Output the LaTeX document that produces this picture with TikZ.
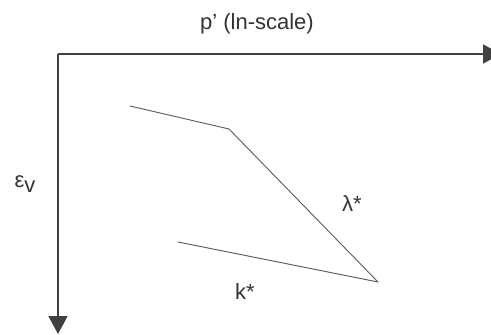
\documentclass[tikz,border=0pt]{standalone}
\usepackage{fontspec}
\setmainfont{Liberation Sans}
\usetikzlibrary{arrows.meta}
\begin{document}
\begin{tikzpicture}[x=1pt, y=-1pt,
        axis/.style={draw=black!75, line width=1.6pt, -{Triangle[width=19pt,length=18pt]}},
        curve/.style={draw=black!65, line width=0.9pt},
        lbl/.style={inner sep=0pt, text=black!80, font=\fontsize{22}{26}\selectfont}]
        \useasboundingbox (0,0) rectangle (491,335);

        \coordinate (o) at (58, 54);
        \coordinate (xend) at (501, 54);
        \coordinate (yend) at (58, 334);
        \coordinate (a) at (130, 106);
        \coordinate (b) at (229, 129);
        \coordinate (c) at (378, 282);
        \coordinate (d) at (178, 242);

        \node[lbl] at (257, 24) (plabel) {p’ (ln-scale)};
        \node[lbl] at (25, 184) (evlabel) {ε\raisebox{-0.2em}{v}};
        \node[lbl] at (352, 204) (lamlabel) {λ*};
        \node[lbl] at (245, 292) (klabel) {k*};

        \draw[axis] (o) -- (xend);
        \draw[axis] (o) -- (yend);
        \draw[curve] (a) -- (b) -- (c);
        \draw[curve] (c) -- (d);
\end{tikzpicture}
\end{document}
